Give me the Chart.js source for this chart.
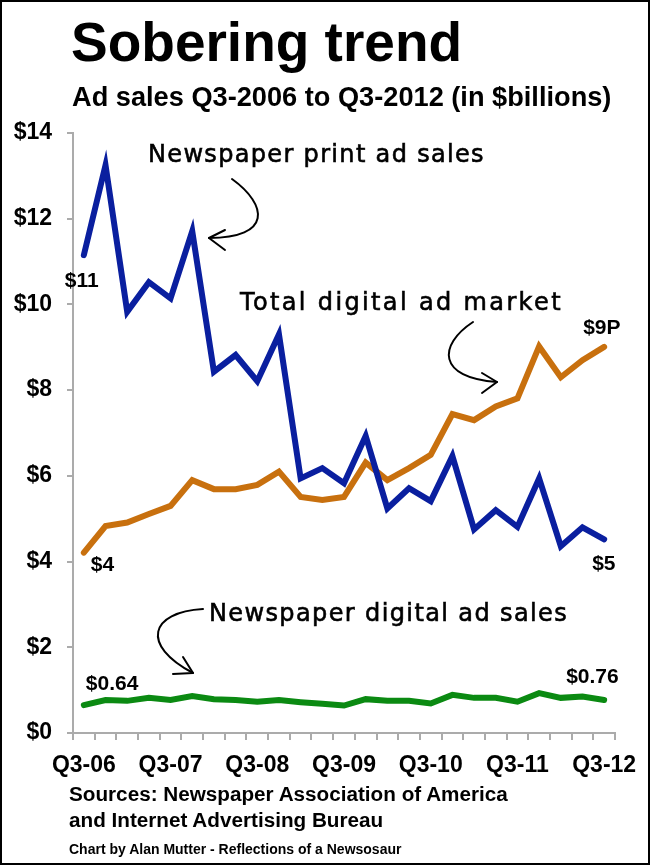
<!DOCTYPE html>
<html><head><meta charset="utf-8">
<script src="https://cdn.jsdelivr.net/npm/chart.js@4.4.0/dist/chart.umd.min.js"></script>
<style>
html,body{margin:0;padding:0;background:#fff;}
#wrap{position:relative;width:650px;height:865px;overflow:hidden;background:#fff;}
#frame{position:absolute;left:0;top:0;width:650px;height:865px;box-sizing:border-box;border:2px solid #000;pointer-events:none;}
canvas{position:absolute;left:0;top:0;}
.t{position:absolute;font-family:"Liberation Sans",Arial,Helvetica,sans-serif;font-weight:bold;color:#000;white-space:nowrap;}
</style></head><body>
<div id="wrap">
<canvas id="c" width="650" height="865"></canvas>
<div class="t" style="left:71px;top:15px;font-size:55px;line-height:55px;">Sobering trend</div>
<div class="t" style="left:72px;top:83px;font-size:27.2px;line-height:27px;">Ad sales Q3-2006 to Q3-2012 (in $billions)</div>
<div class="t" style="left:69px;top:784px;font-size:20.7px;line-height:20.7px;">Sources: Newspaper Association of America</div>
<div class="t" style="left:69px;top:810px;font-size:20.7px;line-height:20.7px;">and Internet Advertising Bureau</div>
<div class="t" style="left:69px;top:842px;font-size:14px;line-height:14px;">Chart by Alan Mutter - Reflections of a Newsosaur</div>
<div id="frame"></div>
</div>
<script>
// ---- data ----
const quarters = ['Q3-06','Q4-06','Q1-07','Q2-07','Q3-07','Q4-07','Q1-08','Q2-08','Q3-08','Q4-08','Q1-09','Q2-09','Q3-09','Q4-09','Q1-10','Q2-10','Q3-10','Q4-10','Q1-11','Q2-11','Q3-11','Q4-11','Q1-12','Q2-12','Q3-12'];
const xTickLabels = ['Q3-06','Q3-07','Q3-08','Q3-09','Q3-10','Q3-11','Q3-12'];
const yTicks = [0,2,4,6,8,10,12,14];
const printAds = [11.15,13.25,9.83,10.52,10.14,11.71,8.43,8.82,8.21,9.30,5.94,6.18,5.83,6.93,5.24,5.71,5.41,6.46,4.75,5.20,4.81,5.94,4.36,4.80,4.52];
const totalDigital = [4.21,4.83,4.91,5.11,5.30,5.90,5.69,5.69,5.79,6.10,5.51,5.44,5.51,6.31,5.90,6.18,6.49,7.44,7.30,7.62,7.81,9.02,8.30,8.70,9.01];
const paperDigital = [0.65,0.77,0.75,0.82,0.77,0.86,0.79,0.77,0.73,0.77,0.72,0.68,0.64,0.79,0.75,0.75,0.69,0.89,0.82,0.82,0.73,0.93,0.82,0.85,0.77];
const seriesNames = ['Newspaper print ad sales','Total digital ad market','Newspaper digital ad sales'];
const endLabels = [
  {series:0, index:0, text:'$11', dx:-19, dy:32},
  {series:1, index:0, text:'$4', dx:7, dy:18},
  {series:2, index:0, text:'$0.64', dx:2, dy:-15},
  {series:1, index:24, text:'$9P', dx:-21, dy:-13},
  {series:0, index:24, text:'$5', dx:-12, dy:31},
  {series:2, index:24, text:'$0.76', dx:-38, dy:-17}
];
// ---- styles ----
const allSeries = [printAds, totalDigital, paperDigital];
const colors = ['#0a1f9f','#c8700e','#0b8a12'];
const FONT = '"Liberation Sans", Arial, Helvetica, sans-serif';
const HAND = '"DejaVu Sans", sans-serif';
const axisGray = '#ababab';

function handText(ctx, text, left, right, baseline){
  ctx.font = '24px ' + HAND;
  ctx.letterSpacing = '0px';
  const w = ctx.measureText(text).width;
  const sp = (right - left - w) / text.length;
  ctx.letterSpacing = sp.toFixed(2) + 'px';
  ctx.textAlign = 'left';
  ctx.textBaseline = 'alphabetic';
  ctx.lineWidth = 0.6;
  ctx.strokeStyle = '#000';
  ctx.fillText(text, left, baseline);
  ctx.strokeText(text, left, baseline);
  ctx.letterSpacing = '0px';
}
function arrowHead(ctx, tip, a, b){
  ctx.beginPath();
  ctx.moveTo(a[0], a[1]); ctx.lineTo(tip[0], tip[1]); ctx.lineTo(b[0], b[1]);
  ctx.stroke();
}

const annot = {
  id:'annot',
  afterDatasetsDraw(chart){
    const ctx = chart.ctx, xs = chart.scales.x, ys = chart.scales.y;
    ctx.save();
    ctx.fillStyle = '#000';
    ctx.font = 'bold 21px ' + FONT;
    ctx.textAlign = 'left';
    ctx.textBaseline = 'alphabetic';
    endLabels.forEach(l => {
      const x = xs.getPixelForValue(l.index);
      const y = ys.getPixelForValue(allSeries[l.series][l.index]);
      ctx.fillText(l.text, x + l.dx, y + l.dy);
    });
    // handwritten-style notes
    handText(ctx, seriesNames[0], 148, 485, 162);
    handText(ctx, seriesNames[1], 240, 563, 310);
    handText(ctx, seriesNames[2], 209, 568, 621);
    ctx.strokeStyle = '#000';
    ctx.lineWidth = 2;
    ctx.lineCap = 'round';
    ctx.lineJoin = 'round';
    // print arrow
    ctx.beginPath(); ctx.moveTo(232,179); ctx.bezierCurveTo(268,205,272,238,209,238); ctx.stroke();
    arrowHead(ctx, [209,238], [225,230], [225,250]);
    // total digital arrow
    ctx.beginPath(); ctx.moveTo(473,322); ctx.bezierCurveTo(438,345,437,378,497,382); ctx.stroke();
    arrowHead(ctx, [497,382], [482,373], [482,393]);
    // newspaper digital arrow
    ctx.beginPath(); ctx.moveTo(203,609); ctx.bezierCurveTo(150,612,140,645,193,673); ctx.stroke();
    arrowHead(ctx, [193,673], [183,657], [173,674]);
    ctx.restore();
  }
};

new Chart(document.getElementById('c'), {
  type:'line',
  data:{
    labels: quarters,
    datasets: allSeries.map((d,i) => ({
      label: seriesNames[i], data: d, borderColor: colors[i], backgroundColor: colors[i],
      borderWidth: 6, pointRadius: 0, tension: 0, clip: false, fill: false,
      borderJoinStyle: 'miter', borderCapStyle: 'round'
    }))
  },
  options:{
    responsive:false, animation:false, devicePixelRatio:1,
    layout:{padding:{left:0, top:133, right:35, bottom:82}},
    plugins:{legend:{display:false}, tooltip:{enabled:false}},
    scales:{
      x:{
        offset:true,
        grid:{offset:true, drawOnChartArea:false, drawTicks:true, tickLength:7, color:axisGray, lineWidth:2},
        border:{display:true, color:axisGray, width:2},
        ticks:{autoSkip:false, maxRotation:0, minRotation:0, padding:12, color:'#000',
          font:{family:FONT, size:23, weight:'bold'},
          callback(v, i){ const l = quarters[i]; return xTickLabels.includes(l) ? l : ''; }},
        afterFit(s){ s.height = 50; }
      },
      y:{
        min:0, max:14,
        afterBuildTicks(s){ s.ticks = yTicks.map(v => ({value:v})); },
        grid:{drawOnChartArea:false, drawTicks:true, tickLength:6, color:axisGray, lineWidth:2},
        border:{display:true, color:axisGray, width:2},
        ticks:{padding:15, color:'#000', font:{family:FONT, size:23, weight:'bold'},
          callback(v){ return '$' + v; }},
        afterFit(s){ s.width = 73; }
      }
    }
  },
  plugins:[annot]
});
</script>
</body></html>
